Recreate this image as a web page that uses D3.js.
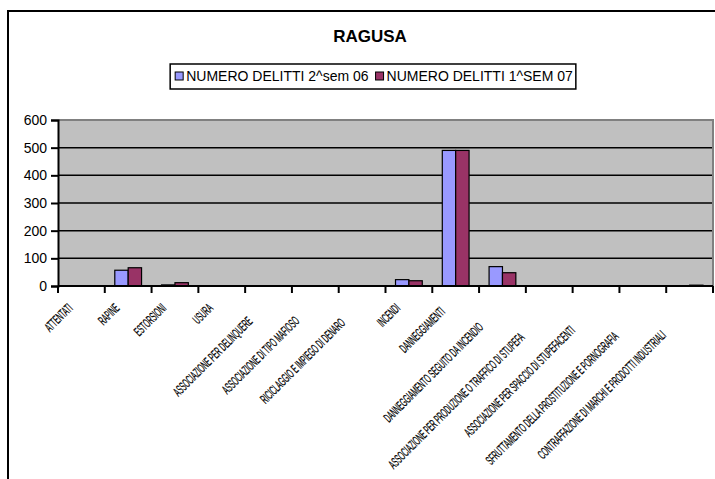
<!DOCTYPE html>
<html>
<head>
<meta charset="utf-8">
<script src="https://cdn.jsdelivr.net/npm/d3@7"></script>
<style>
  html, body { margin: 0; padding: 0; background: #fff; }
  svg { display: block; font-family: "Liberation Sans", Arial, sans-serif; }
</style>
</head>
<body>
<svg id="chart" width="715" height="479"></svg>
<script>
const title = "RAGUSA";
const categories = [
  "ATTENTATI",
  "RAPINE",
  "ESTORSIONI",
  "USURA",
  "ASSOCIAZIONE PER DELINQUERE",
  "ASSOCIAZIONE DI TIPO MAFIOSO",
  "RICICLAGGIO E IMPIEGO DI DENARO",
  "INCENDI",
  "DANNEGGIAMENTI",
  "DANNEGGIAMENTO SEGUITO DA INCENDIO",
  "ASSOCIAZIONE PER PRODUZIONE O TRAFFICO DI STUPEFA",
  "ASSOCIAZIONE PER SPACCIO DI STUPEFACENTI",
  "SFRUTTAMENTO DELLA PROSTITUZIONE E PORNOGRAFIA",
  "CONTRAFFAZIONE DI MARCHI E PRODOTTI INDUSTRIALI"
];
const seriesNames = ["NUMERO DELITTI 2^sem 06", "NUMERO DELITTI 1^SEM 07"];
const sem2_06 = [0, 57, 4, 0, 0, 0, 0, 23, 490, 70, 0, 0, 0, 0];
const sem1_07 = [0, 66, 12, 0, 0, 0, 0, 19, 490, 48, 0, 0, 0, 3];
const yTicks = [0, 100, 200, 300, 400, 500, 600];
const colors = ["#9999FF", "#993366"];

const svg = d3.select("#chart");

// outer chart border
svg.append("rect").attr("x", 8).attr("y", 11).attr("width", 740).attr("height", 500)
  .attr("fill", "#fff").attr("stroke", "#000").attr("stroke-width", 2);

const plot = { left: 58, right: 713, top: 120, bottom: 286 };

const x = d3.scaleBand().domain(categories).range([plot.left, plot.right]).paddingInner(0).paddingOuter(0);
const bw = x.bandwidth();
const xs = d3.scaleBand().domain([0, 1]).range([bw * 0.214, bw * 0.786]).padding(0);
const y = d3.scaleLinear().domain([0, 600]).range([plot.bottom, plot.top]);

// plot background
svg.append("rect").attr("x", plot.left).attr("y", plot.top)
  .attr("width", plot.right - plot.left).attr("height", plot.bottom - plot.top)
  .attr("fill", "#C0C0C0");

// gridlines
svg.append("g").selectAll("line").data(yTicks.filter(t => t > 0 && t < 600)).join("line")
  .attr("x1", plot.left).attr("x2", plot.right)
  .attr("y1", d => y(d)).attr("y2", d => y(d))
  .attr("stroke", "#000").attr("stroke-width", 1.5);

// plot border top/right (gray)
svg.append("path")
  .attr("d", `M${plot.left},${plot.top}H${plot.right}V${plot.bottom}`)
  .attr("fill", "none").attr("stroke", "#808080").attr("stroke-width", 2);

// bars
const data = categories.map((c, i) => ({ c, v: [sem2_06[i], sem1_07[i]] }));
const groups = svg.append("g").selectAll("g").data(data).join("g")
  .attr("transform", d => `translate(${x(d.c)},0)`);
groups.selectAll("rect").data(d => d.v.map((v, s) => ({ v, s }))).join("rect")
  .filter(d => d.v > 0)
  .attr("x", d => xs(d.s)).attr("width", xs.bandwidth())
  .attr("y", d => y(d.v)).attr("height", d => y(0) - y(d.v))
  .attr("fill", d => colors[d.s]).attr("stroke", "#000").attr("stroke-width", 1.2);

// y axis
const yAxis = d3.axisLeft(y).tickValues(yTicks).tickSize(7).tickPadding(4).tickFormat(d3.format("d"));
const gy = svg.append("g").attr("transform", `translate(${plot.left},0)`).call(yAxis);
gy.select(".domain").attr("stroke", "#000").attr("stroke-width", 2);
gy.selectAll(".tick line").attr("stroke", "#000").attr("stroke-width", 2);
gy.selectAll(".tick text").attr("font-size", 14).attr("fill", "#000")
  .attr("font-family", "Liberation Sans, Arial, sans-serif");

// x axis
const gx = svg.append("g").attr("transform", `translate(0,${plot.bottom})`);
gx.append("line").attr("x1", plot.left).attr("x2", plot.right).attr("y1", 0).attr("y2", 0)
  .attr("stroke", "#000").attr("stroke-width", 2);
const edges = categories.map(c => x(c)).concat([plot.right]);
gx.selectAll("line.tk").data(edges).join("line").attr("class", "tk")
  .attr("x1", d => d).attr("x2", d => d).attr("y1", 0).attr("y2", 7)
  .attr("stroke", "#000").attr("stroke-width", 2);

// x labels (rotated, horizontally squeezed)
const squeeze = 0.49;
const lbl = svg.append("g").selectAll("text").data(categories).join("text")
  .attr("font-size", 13).attr("fill", "#000").attr("text-anchor", "end")
  .attr("stroke", "#000").attr("stroke-width", 0.25)
  .text(d => d);
lbl.each(function(d) {
  const L = this.getComputedTextLength() * squeeze;
  const kx = Math.max(0, 0.11 * (L - 40));
  const ky = Math.max(0, 0.2 * (L - 40));
  const cx = x(d) + bw / 2;
  d3.select(this).attr("transform",
    `translate(${cx - 8 - kx},${309 + ky}) rotate(-45) scale(${squeeze},1)`);
});

// title
svg.append("text").attr("x", 370).attr("y", 42).attr("text-anchor", "middle")
  .attr("font-size", 17).attr("font-weight", "bold").text(title);

// legend
const lg = svg.append("g");
const lgBox = lg.append("rect").attr("fill", "#fff").attr("stroke", "#000").attr("stroke-width", 1.5);
let cur = 0;
seriesNames.forEach((n, i) => {
  const g = lg.append("g").attr("transform", `translate(${cur},0)`);
  g.append("rect").attr("x", 0).attr("y", -4).attr("width", 8).attr("height", 8)
    .attr("fill", colors[i]).attr("stroke", "#000").attr("stroke-width", 1);
  const t = g.append("text").attr("x", 11).attr("y", 5).attr("font-size", 14).text(n);
  const w = t.node().getComputedTextLength();
  cur += 11 + w + 7;
});
const totalW = cur - 7;
const lgX = 374 - totalW / 2;
lg.attr("transform", `translate(${lgX},76)`);
lgBox.attr("x", -5).attr("y", -12).attr("width", totalW + 8).attr("height", 25);
</script>
</body>
</html>
